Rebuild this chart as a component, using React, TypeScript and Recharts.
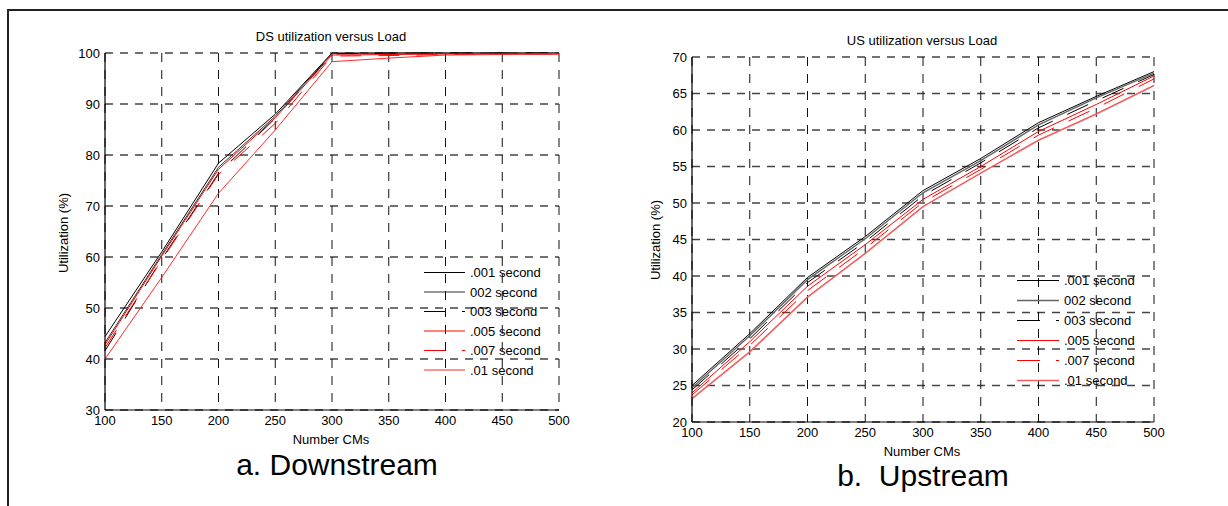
import React from 'react';
import { LineChart, Line, XAxis, YAxis, CartesianGrid } from 'recharts';

// number of cable modems on the x axis
const loads = [100, 150, 200, 250, 300, 350, 400, 450, 500];

// downstream utilization (%) per polling interval
const ds001 = [44.4, 61.0, 78.4, 88.0, 100.0, 100.0, 100.0, 100.0, 100.0];
const ds002 = [43.2, 60.5, 77.6, 87.6, 99.9, 100.0, 100.0, 100.0, 100.0];
const ds003 = [41.6, 59.6, 76.4, 87.2, 99.8, 100.0, 100.0, 100.0, 100.0];
const ds005 = [42.8, 60.2, 77.2, 87.3, 99.6, 99.7, 99.8, 99.8, 99.8];
const ds007 = [42.2, 59.4, 76.2, 86.2, 99.4, 99.5, 99.7, 99.8, 99.8];
const ds01 = [40.0, 56.0, 72.5, 84.9, 98.3, 99.0, 99.6, 99.7, 99.8];

// upstream utilization (%) per polling interval
const us001 = [25.0, 32.1, 39.8, 45.4, 51.7, 56.1, 61.0, 64.6, 68.0];
const us002 = [24.7, 31.8, 39.5, 45.1, 51.4, 55.8, 60.7, 64.4, 67.8];
const us003 = [24.4, 31.4, 39.1, 44.7, 51.0, 55.5, 60.3, 64.0, 67.6];
const us005 = [24.0, 31.0, 38.6, 44.3, 50.5, 55.0, 59.8, 63.5, 67.4];
const us007 = [23.7, 30.5, 38.0, 43.8, 50.1, 54.6, 59.3, 63.0, 67.0];
const us01 = [23.2, 29.6, 37.1, 43.1, 49.5, 54.1, 58.6, 62.2, 66.1];

const seriesLabels = ['.001 second', '002 second', '003 second', '.005 second', '.007 second', '.01 second'];
const seriesKeys = ['s001', 's002', 's003', 's005', 's007', 's01'];

const xTicks = [100, 150, 200, 250, 300, 350, 400, 450, 500];
const dsYTicks = [30, 40, 50, 60, 70, 80, 90, 100];
const usYTicks = [20, 25, 30, 35, 40, 45, 50, 55, 60, 65, 70];

const FONT = '"Liberation Sans", Arial, Helvetica, sans-serif';

type LineStyle = { color: string; dash?: string; width: number };

const dsStyles: LineStyle[] = [
  { color: '#000', width: 1 },
  { color: '#333', width: 1 },
  { color: '#000', dash: '21 17', width: 1 },
  { color: '#ff0000', width: 1 },
  { color: '#ff0000', dash: '21 17', width: 1 },
  { color: '#ff2a2a', width: 1 },
];

const usStyles: LineStyle[] = [
  { color: '#000', width: 1 },
  { color: '#666', width: 1.4 },
  { color: '#000', dash: '23 16', width: 1 },
  { color: '#ff0000', width: 1 },
  { color: '#ff0000', dash: '23 16', width: 1 },
  { color: '#f06060', width: 1.6 },
];

const buildRows = (cols: number[][]) =>
  loads.map((load, i) => {
    const row: Record<string, number> = { load };
    seriesKeys.forEach((k, j) => {
      row[k] = cols[j][i];
    });
    return row;
  });

const dsRows = buildRows([ds001, ds002, ds003, ds005, ds007, ds01]);
const usRows = buildRows([us001, us002, us003, us005, us007, us01]);

interface LegendProps {
  left: number;
  top: number;
  rowGap: number;
  lineLen: number;
  styles: LineStyle[];
}

const LegendBox = ({ left, top, rowGap, lineLen, styles }: LegendProps) => (
  <svg
    style={{ position: 'absolute', left, top, overflow: 'visible' }}
    width={130}
    height={rowGap * 6}
  >
    {seriesLabels.map((label, i) => {
      const y = i * rowGap + 0.5;
      const st = styles[i];
      return (
        <g key={label}>
          <line x1={0} x2={lineLen} y1={y} y2={y} stroke={st.color} strokeWidth={st.width} strokeDasharray={st.dash} />
          <text x={lineLen + 5} y={y} dominantBaseline="central" fontSize={13} fontFamily={FONT} fill="#000">
            {label}
          </text>
        </g>
      );
    })}
  </svg>
);

interface PanelProps {
  rows: Record<string, number>[];
  styles: LineStyle[];
  yDomain: [number, number];
  yTicks: number[];
  margin: { top: number; right: number; bottom: number; left: number };
}

const Panel = ({ rows, styles, yDomain, yTicks, margin }: PanelProps) => (
  <LineChart width={614} height={506} data={rows} margin={margin}>
    <CartesianGrid horizontal vertical={false} stroke="#444" strokeWidth={1.3} strokeDasharray="8 7" />
    <CartesianGrid horizontal={false} vertical stroke="#111" strokeWidth={1} strokeDasharray="9 8" />
    <XAxis
      dataKey="load"
      type="number"
      domain={[100, 500]}
      ticks={xTicks}
      interval={0}
      height={30}
      tickLine={false}
      tickSize={6}
      tickMargin={0}
      axisLine={{ stroke: '#000', strokeWidth: 1.2 }}
      tick={{ fontSize: 13, fill: '#000', fontFamily: FONT }}
    />
    <XAxis
      xAxisId="top"
      orientation="top"
      dataKey="load"
      type="number"
      domain={[100, 500]}
      height={0}
      tick={false}
      tickLine={false}
      axisLine={{ stroke: '#000', strokeWidth: 1.2 }}
    />
    <YAxis
      type="number"
      domain={yDomain}
      ticks={yTicks}
      interval={0}
      width={40}
      tickLine={false}
      tickSize={4}
      tickMargin={1}
      axisLine={{ stroke: '#000', strokeWidth: 1.2 }}
      tick={{ fontSize: 13, fill: '#000', fontFamily: FONT }}
    />
    <YAxis
      yAxisId="right"
      orientation="right"
      type="number"
      domain={yDomain}
      width={0}
      tick={false}
      tickLine={false}
      axisLine={{ stroke: '#000', strokeWidth: 1.2 }}
    />
    {seriesKeys.map((k, i) => (
      <Line
        key={k}
        type="linear"
        dataKey={k}
        stroke={styles[i].color}
        strokeWidth={styles[i].width}
        strokeDasharray={styles[i].dash}
        dot={false}
        activeDot={false}
        isAnimationActive={false}
      />
    ))}
  </LineChart>
);

const abs = (left: number, top: number, extra: React.CSSProperties = {}): React.CSSProperties => ({
  position: 'absolute',
  left,
  top,
  fontFamily: FONT,
  color: '#000',
  whiteSpace: 'pre',
  lineHeight: 1,
  ...extra,
});

const Centered = ({ x, y, size, children, rotate }: { x: number; y: number; size: number; children: React.ReactNode; rotate?: boolean }) => (
  <div
    style={abs(x, y, {
      fontSize: size,
      transform: `translate(-50%, -50%)${rotate ? ' rotate(-90deg)' : ''}`,
    })}
  >
    {children}
  </div>
);

export default function App() {
  return (
    <div style={{ position: 'absolute', left: 0, top: 0, width: 1228, height: 506, background: '#fff', overflow: 'hidden' }}>
      {/* figure frame */}
      <div style={{ position: 'absolute', left: 7, top: 9, width: 1240, height: 520, borderTop: '2px solid #222', borderLeft: '2px solid #222' }} />

      {/* downstream panel */}
      <div style={{ position: 'absolute', left: 0, top: 0 }}>
        <Panel rows={dsRows} styles={dsStyles} yDomain={[30, 100]} yTicks={dsYTicks} margin={{ top: 53, right: 55, bottom: 66, left: 65 }} />
      </div>
      <Centered x={331} y={36} size={13}>DS utilization versus Load</Centered>
      <Centered x={331} y={439} size={13}>Number CMs</Centered>
      <Centered x={63} y={233} size={13} rotate>Utilization (%)</Centered>
      <Centered x={337} y={465} size={30}>a. Downstream</Centered>
      <LegendBox left={424} top={272} rowGap={19.5} lineLen={41} styles={dsStyles} />

      {/* upstream panel */}
      <div style={{ position: 'absolute', left: 614, top: 0 }}>
        <Panel rows={usRows} styles={usStyles} yDomain={[20, 70]} yTicks={usYTicks} margin={{ top: 57, right: 74, bottom: 54, left: 38 }} />
      </div>
      <Centered x={922} y={40} size={13}>US utilization versus Load</Centered>
      <Centered x={922} y={451} size={13}>Number CMs</Centered>
      <Centered x={655} y={240} size={13} rotate>Utilization (%)</Centered>
      <Centered x={923} y={476} size={30}>{'b.  Upstream'}</Centered>
      <LegendBox left={1017} top={280} rowGap={20} lineLen={42} styles={usStyles} />
    </div>
  );
}
